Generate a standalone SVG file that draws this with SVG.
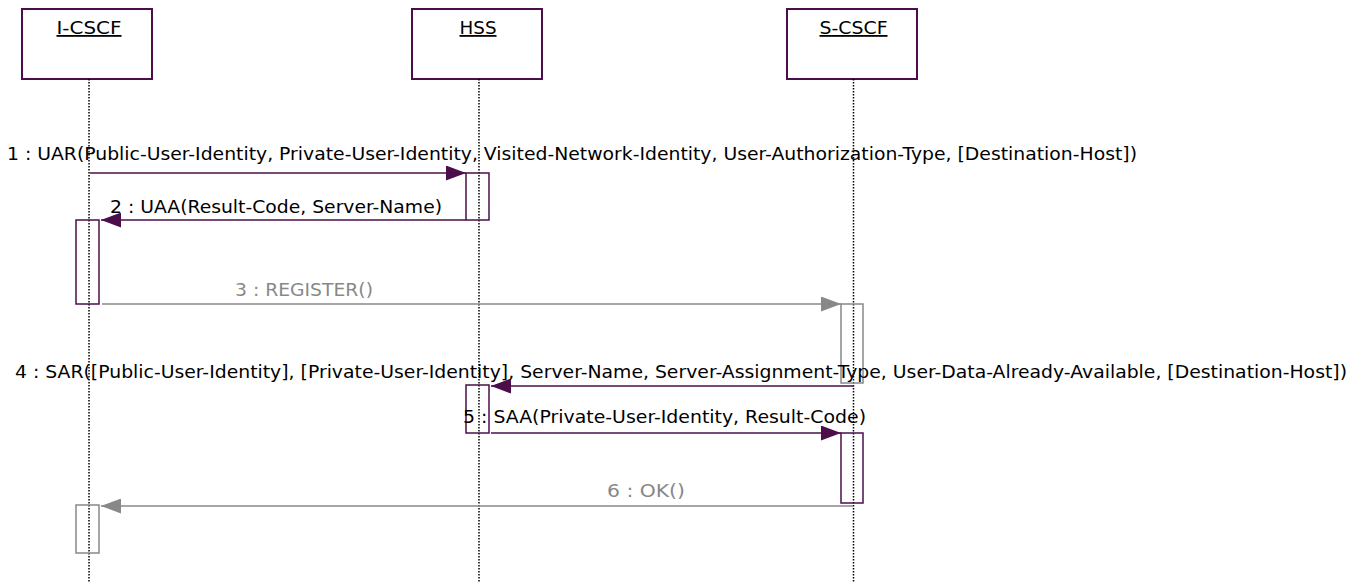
<svg xmlns="http://www.w3.org/2000/svg" width="1365" height="583" viewBox="0 0 1365 583">
<style>
  .box { fill: #ffffff; stroke: #4b0e4b; stroke-width: 2; }
  .title { font-family: "DejaVu Sans", "Liberation Sans", sans-serif; font-size: 18px; fill: #000; text-decoration: underline; text-anchor: middle; }
  .life { stroke: #000; stroke-width: 1.5; stroke-dasharray: 1.5 1.5; fill: none; }
  .act { fill: none; stroke: #4b0e4b; stroke-width: 1.5; }
  .actg { fill: none; stroke: #888888; stroke-width: 1.5; }
  .msg { stroke: #4b0e4b; stroke-width: 1.5; fill: none; marker-end: url(#ah); }
  .msgg { stroke: #888888; stroke-width: 1.5; fill: none; marker-end: url(#ahg); }
  .lbl { font-family: "DejaVu Sans", "Liberation Sans", sans-serif; font-size: 17px; fill: #000; }
  .lblg { font-family: "DejaVu Sans", "Liberation Sans", sans-serif; font-size: 17px; fill: #888888; }
</style>
<defs>
  <marker id="ah" markerUnits="userSpaceOnUse" markerWidth="20" markerHeight="15" refX="20" refY="7.5" orient="auto">
    <path d="M0,0 L20,7.5 L0,15 Z" fill="#4b0e4b"/>
  </marker>
  <marker id="ahg" markerUnits="userSpaceOnUse" markerWidth="20" markerHeight="15" refX="20" refY="7.5" orient="auto">
    <path d="M0,0 L20,7.5 L0,15 Z" fill="#888888"/>
  </marker>
</defs>
<rect width="1365" height="583" fill="#ffffff"/>

<g id="icscf">
  <rect class="box" x="22" y="9" width="130" height="70"/>
  <text class="title" x="89" y="34" textLength="65" lengthAdjust="spacingAndGlyphs">I-CSCF</text>
  <line class="life" x1="89" y1="79" x2="89" y2="583"/>
  <rect class="act" x="76" y="220" width="23" height="84"/>
  <rect class="actg" x="76" y="505" width="23" height="48"/>
</g>
<g id="hss">
  <rect class="box" x="412" y="9" width="130" height="70"/>
  <text class="title" x="478" y="34" textLength="37" lengthAdjust="spacingAndGlyphs">HSS</text>
  <line class="life" x1="479" y1="79" x2="479" y2="583"/>
  <rect class="act" x="466" y="173" width="23" height="47"/>
  <rect class="act" x="466" y="385" width="23" height="48"/>
</g>
<g id="scscf">
  <rect class="box" x="787" y="9" width="130" height="70"/>
  <text class="title" x="853.5" y="34" textLength="68" lengthAdjust="spacingAndGlyphs">S-CSCF</text>
  <line class="life" x1="853.5" y1="79" x2="853.5" y2="583"/>
  <rect class="actg" x="841" y="304" width="22" height="79"/>
  <rect class="act" x="841" y="433" width="22" height="70"/>
</g>

<g id="connectors">
  <line class="msg" x1="90" y1="173" x2="466" y2="173"/>
  <line class="msg" x1="466" y1="220" x2="101" y2="220"/>
  <line class="msgg" x1="102" y1="304" x2="841" y2="304"/>
  <line class="msg" x1="854" y1="386" x2="491" y2="386"/>
  <line class="msg" x1="491" y1="433" x2="841" y2="433"/>
  <line class="msgg" x1="853" y1="506" x2="101" y2="506"/>
</g>

<g id="labels">
  <text class="lbl" x="7" y="160" textLength="1130" lengthAdjust="spacingAndGlyphs">1 : UAR(Public-User-Identity, Private-User-Identity, Visited-Network-Identity, User-Authorization-Type, [Destination-Host])</text>
  <text class="lbl" x="110" y="213" textLength="332" lengthAdjust="spacingAndGlyphs">2 : UAA(Result-Code, Server-Name)</text>
  <text class="lblg" x="235" y="296" textLength="138" lengthAdjust="spacingAndGlyphs">3 : REGISTER()</text>
  <text class="lbl" x="15" y="378" textLength="1332" lengthAdjust="spacingAndGlyphs">4 : SAR([Public-User-Identity], [Private-User-Identity], Server-Name, Server-Assignment-Type, User-Data-Already-Available, [Destination-Host])</text>
  <text class="lbl" x="463" y="423" textLength="403" lengthAdjust="spacingAndGlyphs">5 : SAA(Private-User-Identity, Result-Code)</text>
  <text class="lblg" x="607" y="497" textLength="78" lengthAdjust="spacingAndGlyphs">6 : OK()</text>
</g>
</svg>
